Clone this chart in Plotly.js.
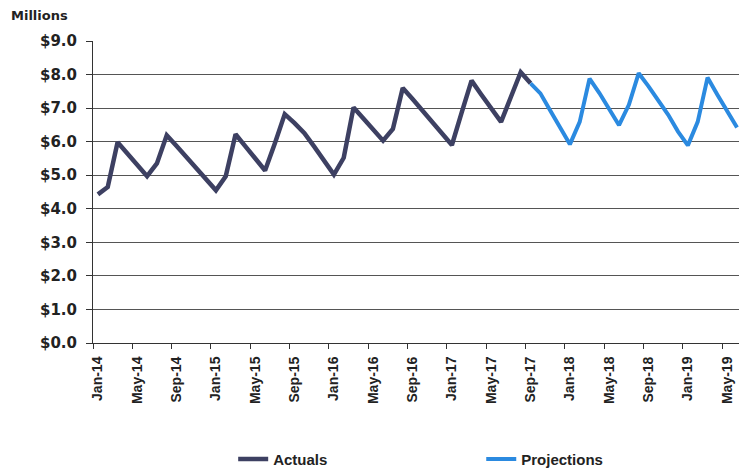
<!DOCTYPE html>
<html>
<head>
<meta charset="utf-8">
<script src="https://cdn.plot.ly/plotly-3.0.1.min.js"></script>
<style>
  html, body { margin: 0; padding: 0; background: #ffffff; }
  #chart { width: 739px; height: 469px; }
</style>
</head>
<body>
<div id="chart"></div>
<script>
// Month categories (Jan-14 .. Jun-19)
const months = [
  "Jan-14","Feb-14","Mar-14","Apr-14","May-14","Jun-14","Jul-14","Aug-14","Sep-14","Oct-14","Nov-14","Dec-14",
  "Jan-15","Feb-15","Mar-15","Apr-15","May-15","Jun-15","Jul-15","Aug-15","Sep-15","Oct-15","Nov-15","Dec-15",
  "Jan-16","Feb-16","Mar-16","Apr-16","May-16","Jun-16","Jul-16","Aug-16","Sep-16","Oct-16","Nov-16","Dec-16",
  "Jan-17","Feb-17","Mar-17","Apr-17","May-17","Jun-17","Jul-17","Aug-17","Sep-17","Oct-17","Nov-17","Dec-17",
  "Jan-18","Feb-18","Mar-18","Apr-18","May-18","Jun-18","Jul-18","Aug-18","Sep-18","Oct-18","Nov-18","Dec-18",
  "Jan-19","Feb-19","Mar-19","Apr-19","May-19","Jun-19"
];

// Actuals, $ millions (Jan-14 .. Sep-17)
const actuals = [
  4.43, 4.65, 5.98, 5.65, 5.30, 4.97, 5.35, 6.19, 5.87, 5.54, 5.21, 4.88,
  4.55, 4.97, 6.22, 5.86, 5.50, 5.14, 5.95, 6.82, 6.55, 6.25, 5.85, 5.45,
  5.02, 5.52, 7.02, 6.69, 6.36, 6.03, 6.38, 7.60, 7.27, 6.93, 6.60, 6.25,
  5.90, 6.87, 7.82, 7.40, 7.00, 6.59, 7.33, 8.07, 7.74
];

// Projections, $ millions (Sep-17 .. Jun-19)
const projections = [
  7.74, 7.44, 6.93, 6.40,
  5.92, 6.59, 7.88, 7.45, 6.95, 6.49, 7.10, 8.04, 7.65, 7.25, 6.80, 6.30,
  5.89, 6.59, 7.91, 7.40, 6.90, 6.42
];

const actualMonths = months.slice(0, actuals.length);
const projMonths = months.slice(actuals.length - 1, actuals.length - 1 + projections.length);

const traces = [
  {
    x: actualMonths, y: actuals, type: "scatter", mode: "lines", name: "Actuals",
    line: { color: "#3d4062", width: 4.5 }, legend: "legend"
  },
  {
    x: projMonths, y: projections, type: "scatter", mode: "lines", name: "Projections",
    line: { color: "#2b8ae0", width: 4 }, legend: "legend2"
  }
];

const legendFont = { family: "Liberation Sans, Arial, sans-serif", size: 15, color: "#222", weight: "bold" };

const layout = {
  width: 739, height: 469,
  margin: { l: 93, r: 0, t: 41, b: 126, autoexpand: false },
  paper_bgcolor: "#ffffff", plot_bgcolor: "#ffffff",
  title: {
    text: "Millions", xref: "container", yref: "container",
    x: 11 / 739, xanchor: "left", y: 1 - 15 / 469, yanchor: "middle",
    font: { family: "DejaVu Sans, sans-serif", size: 13, color: "#222", weight: "bold" }
  },
  xaxis: {
    type: "category", categoryorder: "array", categoryarray: months,
    range: [-0.5, 65.2],
    tickmode: "linear", tick0: 0, dtick: 4, tickson: "boundaries",
    ticks: "outside", ticklen: 5, tickcolor: "#333", tickwidth: 1,
    tickangle: -90, ticklabelstandoff: 7,
    tickfont: { family: "Liberation Sans, Arial, sans-serif", size: 14, color: "#222", weight: "bold" },
    showgrid: false, showline: true, linecolor: "#333", linewidth: 1,
    zeroline: false, fixedrange: true
  },
  yaxis: {
    range: [0, 9], dtick: 1, tick0: 0, tickformat: "$.1f",
    ticks: "outside", ticklen: 6, tickcolor: "#333", tickwidth: 1,
    ticklabelstandoff: 6,
    tickfont: { family: "DejaVu Sans, sans-serif", size: 15, color: "#222", weight: "bold" },
    showgrid: true, gridcolor: "#555", gridwidth: 1,
    showline: true, linecolor: "#333", linewidth: 1,
    zeroline: false, fixedrange: true
  },
  showlegend: true,
  legend: {
    orientation: "h", x: 0.217, xanchor: "left", y: -0.385, yanchor: "middle",
    font: legendFont, bgcolor: "rgba(0,0,0,0)"
  },
  legend2: {
    orientation: "h", x: 0.601, xanchor: "left", y: -0.385, yanchor: "middle",
    font: legendFont, bgcolor: "rgba(0,0,0,0)"
  }
};

Plotly.newPlot("chart", traces, layout, { staticPlot: true, displayModeBar: false });
</script>
</body>
</html>
